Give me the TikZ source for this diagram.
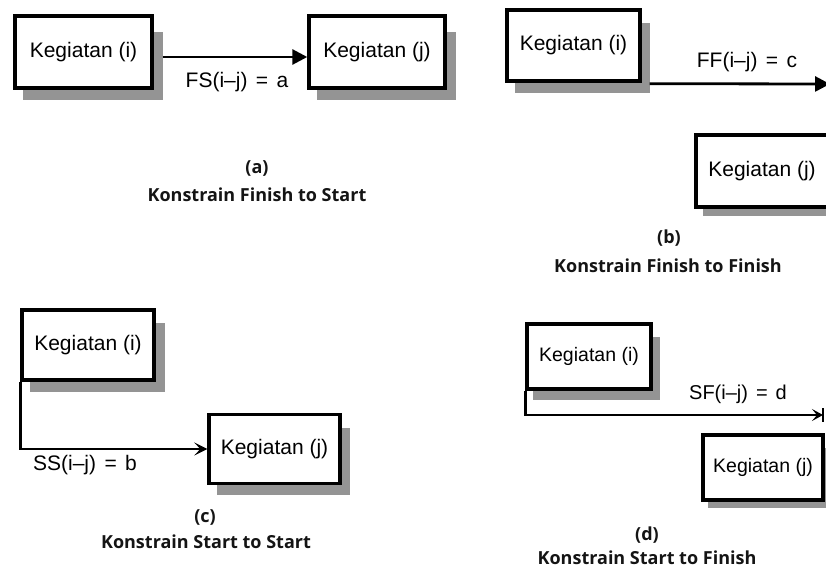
\documentclass[tikz,border=0pt]{standalone}
\usepackage{fontspec}
\setmainfont{Liberation Sans}
\newfontfamily\capfont{Open Sans}
\usetikzlibrary{arrows.meta,calc,backgrounds}
\definecolor{shadowgray}{gray}{0.58}
\newcommand{\bshadow}[5]{% node, dx, dy, top offset, left offset
  \fill[shadowgray] ($(#1.north east)+(0,#4)$) rectangle ($(#1.south east)+(#2,#3)$);
  \fill[shadowgray] ($(#1.south west)+(#5,0)$) rectangle ($(#1.south east)+(#2,#3)$);}
\begin{document}
\begin{tikzpicture}[x=1pt,y=-1pt,
  box/.style={draw, line width=3.4pt, fill=white, inner sep=0pt,
    font=\fontsize{21}{25}\selectfont},
  lab/.style={inner sep=0pt, font=\fontsize{21}{25}\selectfont},
  captext/.style={inner sep=0pt, text=black!92, font=\capfont\bfseries\fontsize{18}{22}\selectfont},
  conn/.style={line width=2.8pt}
]
\clip (0,0) rectangle (826,570);
% (a) Finish to Start
\node[box, minimum width=137pt, minimum height=72pt] (ai) at (83.5,52) {Kegiatan (i)};
\node[box, minimum width=136pt, minimum height=72pt] (aj) at (377,52) {Kegiatan (j)};
\draw[conn, -{Triangle[length=15pt,width=15pt]}] ($(ai.east)+(9,5)$) -- ($(aj.west)+(0,5)$);
\node[lab] (la) at (237,82) {FS(i–j)\hspace{0.4em}=\hspace{0.4em}a};
\node[captext] (ca1) at (257,168) {(a)};
\node[captext] (ca2) at (257,195) {Konstrain Finish to Start};
% (b) Finish to Finish
\node[box, minimum width=133pt, minimum height=71pt] (bi) at (573.5,45.5) {Kegiatan (i)};
\node[box, minimum width=132pt, minimum height=72pt] (bj) at (762,171) {Kegiatan (j)};
\coordinate (bend) at (830,84);
\draw[conn, -{Triangle[length=15pt,width=15pt]}] ($(bi.south east)+(8,1)$) -- (bend);
\node[lab] (lb) at (747,62) {FF(i–j)\hspace{0.4em}=\hspace{0.4em}c};
\node[captext] (cb1) at (669,238) {(b)};
\node[captext] (cb2) at (668,266) {Konstrain Finish to Finish};
% (c) Start to Start
\node[box, minimum width=132pt, minimum height=70pt] (ci) at (88,345) {Kegiatan (i)};
\node[box, minimum width=131pt, minimum height=69pt] (cj) at (274.5,449) {Kegiatan (j)};
\draw[conn, -{Stealth[length=13pt,width=13pt,inset=6pt]}] (ci.south west) |- (cj.west);
\node[lab] (lc) at (85,465) {SS(i–j)\hspace{0.4em}=\hspace{0.4em}b};
\node[captext] (cc1) at (205,517) {(c)};
\node[captext] (cc2) at (206,542) {Konstrain Start to Start};
% (d) Start to Finish
\node[box, minimum width=124pt, minimum height=65pt, font=\fontsize{19.5}{23}\selectfont] (di) at (589,356.5) {Kegiatan (i)};
\node[box, minimum width=120pt, minimum height=65pt, font=\fontsize{19.5}{23}\selectfont] (dj) at (763,467.5) {Kegiatan (j)};
\coordinate (dend) at (823,415);
\draw[conn, -{Stealth[length=11pt,width=12pt,inset=5pt]}] (di.south west) |- (dend);
\draw[conn] ($(dend)+(0,-7)$) -- ($(dend)+(0,7)$);
\node[lab, font=\fontsize{20}{24}\selectfont] (ld) at (738,394) {SF(i–j)\hspace{0.4em}=\hspace{0.4em}d};
\node[captext] (cd1) at (647,535) {(d)};
\node[captext] (cd2) at (647,558) {Konstrain Start to Finish};
% shadows
\begin{scope}[on background layer]
\bshadow{ai}{9}{10}{18}{10}
\bshadow{aj}{9}{10}{18}{10}
\bshadow{bi}{8}{10}{15}{10}
\bshadow{bj}{9}{7}{15}{9}
\bshadow{ci}{9}{10}{15}{10}
\bshadow{cj}{8}{10}{15}{10}
\bshadow{di}{7}{9}{15}{8}
\bshadow{dj}{7}{6}{15}{7}
\end{scope}
\end{tikzpicture}
\end{document}
